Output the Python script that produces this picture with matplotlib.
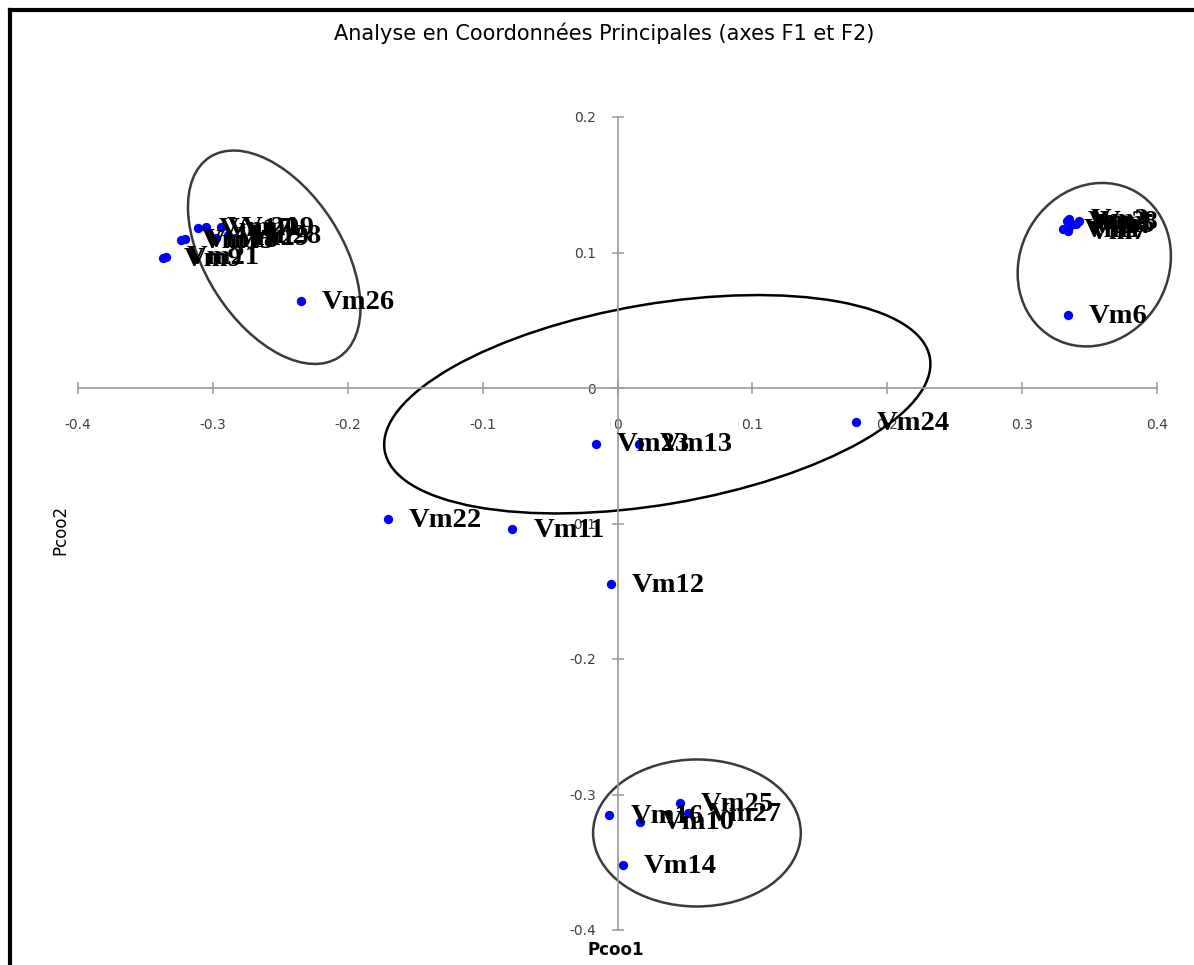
import matplotlib
matplotlib.use("Agg")
import matplotlib.pyplot as plt
from matplotlib.patches import Ellipse
from matplotlib.lines import Line2D
from matplotlib.ticker import FixedLocator, FixedFormatter

# ---------------- data ----------------
labels = ["Vm21", "Vm9", "Vm15", "Vm18", "Vm17", "Vm20", "Vm19", "Vm29", "Vm28", "Vm26",
          "Vm1", "Vm2", "Vm3", "Vm4", "Vm5", "Vm7", "Vm8", "Vm6",
          "Vm23", "Vm13", "Vm24", "Vm22", "Vm11", "Vm12",
          "Vm16", "Vm10", "Vm25", "Vm27", "Vm14"]
pcoo1 = [-0.335, -0.337, -0.324, -0.321, -0.311, -0.305, -0.294, -0.298, -0.289, -0.235,
         0.330, 0.333, 0.335, 0.336, 0.340, 0.334, 0.342, 0.334,
         -0.016, 0.016, 0.177, -0.170, -0.078, -0.005,
         -0.006, 0.017, 0.046, 0.052, 0.004]
pcoo2 = [0.097, 0.096, 0.109, 0.110, 0.118, 0.119, 0.119, 0.111, 0.113, 0.064,
         0.117, 0.123, 0.125, 0.120, 0.121, 0.116, 0.123, 0.054,
         -0.041, -0.041, -0.025, -0.097, -0.104, -0.145,
         -0.315, -0.320, -0.306, -0.314, -0.352]

xticks = [-0.4, -0.3, -0.2, -0.1, 0.0, 0.1, 0.2, 0.3, 0.4]
xticklabels = ["-0.4", "-0.3", "-0.2", "-0.1", "0", "0.1", "0.2", "0.3", "0.4"]
yticks = [-0.4, -0.3, -0.2, -0.1, 0.0, 0.1, 0.2]
yticklabels = ["-0.4", "-0.3", "-0.2", "-0.1", "0", "0.1", "0.2"]

# group ellipses: centre x, centre y, width, height, angle
ell_cx = [-0.2545, 0.3535, 0.0295, 0.0589]
ell_cy = [0.0965, 0.0910, -0.012, -0.3284]
ell_w = [0.176, 0.1240, 0.410, 0.154]
ell_h = [0.101, 0.110, 0.148, 0.1085]
ell_ang = [-57, 60, 9.6, 0]
ell_col = ["#3a3a3a", "#3a3a3a", "#000000", "#3a3a3a"]

title = "Analyse en Coordonnées Principales (axes F1 et F2)"

# ---------------- figure ----------------
W, H = 1194, 965
fig = plt.figure(figsize=(W / 100, H / 100), dpi=100)
fig.patch.set_facecolor("white")

ax = fig.add_axes([78 / W, 1 - 930 / H, (1157 - 78) / W, (930 - 117) / H])
ax.set_xlim(-0.4, 0.4)
ax.set_ylim(-0.4, 0.2)
ax.set_facecolor("none")

for s in ["top", "right"]:
    ax.spines[s].set_visible(False)
ax.spines["left"].set_position(("data", 0))
ax.spines["bottom"].set_position(("data", 0))
for s in ["left", "bottom"]:
    ax.spines[s].set_color("#9a9a9a")
    ax.spines[s].set_linewidth(1.2)

ax.xaxis.set_major_locator(FixedLocator(xticks))
ax.xaxis.set_major_formatter(FixedFormatter(xticklabels))
ax.yaxis.set_major_locator(FixedLocator(yticks))
ax.yaxis.set_major_formatter(FixedFormatter(yticklabels))
ax.tick_params(axis="both", direction="inout", length=9, width=1.1, color="#9a9a9a",
               labelsize=10, labelcolor="#404040")
ax.tick_params(axis="x", pad=17)
ax.tick_params(axis="y", pad=11)

for cx, cy, w, h, a, c in zip(ell_cx, ell_cy, ell_w, ell_h, ell_ang, ell_col):
    ax.add_patch(Ellipse((cx, cy), w, h, angle=a, fill=False, edgecolor=c,
                         linewidth=1.8, zorder=2, clip_on=False))

ax.scatter(pcoo1, pcoo2, s=45, color="#0000ff", zorder=3, clip_on=False, linewidths=0)
for lab, x, y in zip(labels, pcoo1, pcoo2):
    ax.annotate(lab, (x, y), xytext=(15, -1), textcoords="offset points",
                ha="left", va="center", fontsize=20.5, fontweight="bold",
                family="Liberation Serif", color="black", zorder=4,
                annotation_clip=False)

fig.text(604 / W, 1 - 33 / H, title, ha="center", va="center", fontsize=15,
         family="DejaVu Sans", color="black")
fig.text(616 / W, 1 - 950 / H, "Pcoo1", ha="center", va="center", fontsize=12,
         fontweight="bold", family="DejaVu Sans")
fig.text(60 / W, 1 - 530 / H, "Pcoo2", ha="center", va="center", fontsize=12,
         rotation=90, family="DejaVu Sans")

# outer frame (top and left borders visible)
fig.add_artist(Line2D([10 / W, 1.0], [1 - 10 / H, 1 - 10 / H], color="black",
                      linewidth=3, transform=fig.transFigure))
fig.add_artist(Line2D([10 / W, 10 / W], [0.0, 1 - 10 / H], color="black",
                      linewidth=3, transform=fig.transFigure))

fig.savefig("out.png", dpi=100)
